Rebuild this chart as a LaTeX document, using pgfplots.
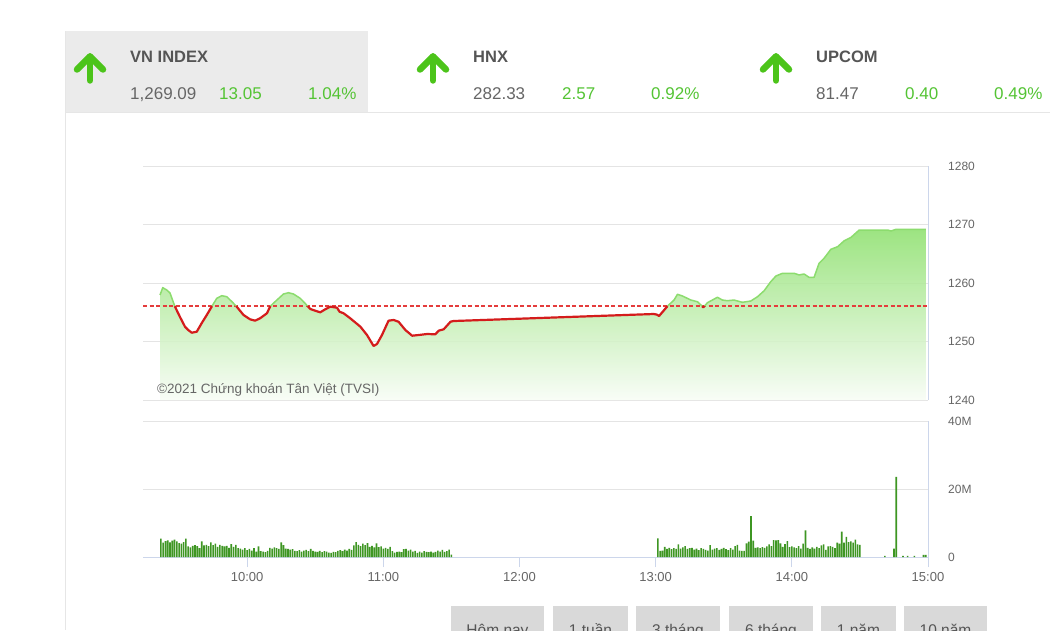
\documentclass[border=0pt]{standalone}
\usepackage{fontspec}
\setmainfont{Liberation Sans}
\usepackage{pgfplots}
\pgfplotsset{compat=1.18}
\usepackage{pgfplotstable}

\definecolor{hdrgray}{RGB}{235,235,235}
\definecolor{cardline}{RGB}{230,230,230}
\definecolor{arrowgreen}{RGB}{76,196,26}
\definecolor{upgreen}{RGB}{84,196,52}
\definecolor{titlegray}{RGB}{85,85,85}
\definecolor{valgray}{RGB}{102,102,102}
\definecolor{labgray}{RGB}{102,102,102}
\definecolor{gridgray}{RGB}{228,228,228}
\definecolor{axisblue}{RGB}{204,214,235}
\definecolor{linered}{RGB}{212,28,28}
\definecolor{refred}{RGB}{228,60,60}
\definecolor{greenline}{RGB}{140,220,110}
\definecolor{filltop}{RGB}{140,224,108}
\definecolor{fillbot}{RGB}{248,253,246}
\definecolor{volgreen}{RGB}{62,150,35}
\definecolor{btngray}{RGB}{217,217,217}
\definecolor{btntext}{RGB}{85,85,85}

% price: minutes after 9:00, index value
\pgfplotstableread{
t p
21.6 1257.95
22.8 1259.20
24.6 1258.80
26.0 1258.29
28.1 1256.04
30.4 1254.19
32.6 1252.53
34.0 1251.97
35.6 1251.50
37.8 1251.68
40.0 1253.16
42.2 1254.53
44.5 1256.04
46.6 1257.38
48.8 1257.83
51.0 1257.66
53.3 1256.80
55.2 1256.04
58.4 1254.53
61.3 1253.79
63.5 1253.56
65.7 1253.97
68.7 1254.82
70.2 1256.04
73.1 1257.09
76.0 1258.12
78.2 1258.34
80.4 1258.12
83.4 1257.38
86.7 1256.04
87.8 1255.56
90.0 1255.26
92.2 1254.99
94.4 1255.50
96.6 1255.95
99.6 1255.78
100.7 1255.09
102.5 1254.82
105.4 1253.97
109.9 1252.53
112.8 1251.11
115.7 1249.23
117.2 1249.57
119.4 1251.11
122.3 1253.56
124.5 1253.68
126.7 1253.38
129.7 1251.97
132.7 1250.99
135.6 1251.11
139.3 1251.28
142.9 1251.23
144.4 1251.85
146.6 1252.09
149.6 1253.38
150.9 1253.50
239.2 1254.70
240.5 1254.60
241.5 1254.36
245.2 1256.04
248.1 1257.09
249.6 1258.07
251.8 1257.78
255.5 1257.09
258.4 1256.80
260.5 1256.04
261.0 1255.85
261.5 1256.04
262.8 1256.63
267.2 1257.56
269.4 1257.09
271.6 1256.97
274.5 1257.09
278.2 1256.70
281.9 1256.92
284.9 1257.66
287.8 1258.68
290.7 1260.22
293.0 1261.20
295.9 1261.66
301.0 1261.66
303.2 1261.37
305.4 1261.54
307.6 1260.97
309.8 1260.97
312.0 1263.37
314.2 1264.22
317.2 1265.76
320.2 1266.21
323.1 1267.23
326.1 1267.81
329.7 1269.06
342.2 1269.06
343.7 1268.89
345.9 1269.18
359.1 1269.18
}\price

% volume: minutes after 9:00, millions
\pgfplotstableread{
t v
22 5.4
23 4.2
24 4.7
25 4.9
26 4.3
27 4.8
28 5.1
29 4.6
30 4.1
31 3.9
32 4.4
33 5.4
34 3.1
35 2.8
36 3.3
37 3.5
38 3.2
39 2.6
40 4.6
41 3.4
42 3.6
43 3.2
44 4.3
45 3.5
46 3.9
47 3.0
48 3.6
49 3.3
50 3.1
51 3.3
52 2.7
53 3.8
54 3.0
55 3.6
56 2.6
57 2.5
58 2.2
59 2.6
60 2.0
61 2.4
62 1.9
63 2.6
64 1.6
65 3.1
66 1.7
67 1.6
68 1.4
69 1.8
70 2.7
71 2.5
72 2.8
73 2.6
74 2.4
75 4.3
76 3.5
77 2.5
78 2.4
79 2.2
80 2.3
81 1.8
82 1.7
83 2.0
84 1.6
85 1.9
86 2.1
87 1.7
88 2.4
89 1.8
90 1.6
91 1.5
92 1.8
93 1.4
94 1.7
95 1.6
96 1.3
97 1.2
98 1.5
99 1.4
100 1.8
101 2.0
102 1.7
103 2.2
104 1.9
105 2.4
106 2.1
107 3.4
108 4.4
109 3.6
110 3.2
111 3.9
112 3.5
113 4.1
114 3.0
115 3.3
116 2.8
117 4.0
118 2.9
119 3.1
120 2.5
121 2.7
122 2.4
123 3.0
124 1.7
125 1.3
126 1.5
127 1.6
128 1.4
129 2.3
130 2.4
131 1.9
132 2.2
133 1.6
134 1.8
135 1.2
136 1.6
137 1.3
138 1.7
139 1.5
140 1.4
141 1.6
142 1.3
143 1.5
144 1.9
145 1.6
146 2.1
147 1.5
148 1.7
149 2.2
150 0.7
241 5.5
242 1.8
243 1.9
244 3.0
245 2.4
246 2.7
247 2.3
248 2.6
249 2.4
250 3.7
251 2.5
252 2.8
253 3.2
254 2.4
255 2.6
256 2.7
257 2.2
258 2.5
259 2.0
260 2.6
261 2.4
262 2.1
263 1.9
264 3.5
265 2.2
266 2.5
267 2.6
268 2.1
269 2.4
270 2.7
271 2.3
272 2.0
273 2.6
274 2.2
275 3.2
276 3.6
277 1.9
278 1.8
279 1.8
280 4.0
281 4.5
282 12.0
283 4.8
284 2.7
285 2.8
286 2.6
287 2.9
288 2.7
289 3.1
290 3.7
291 3.2
292 5.0
293 4.9
294 5.0
295 4.0
296 3.0
297 3.8
298 4.7
299 2.9
300 3.1
301 2.8
302 2.6
303 3.2
304 2.5
305 3.9
306 7.8
307 2.7
308 2.4
309 2.8
310 2.5
311 3.0
312 2.6
313 3.4
314 3.7
315 2.1
316 3.1
317 3.2
318 3.0
319 2.6
320 4.2
321 3.9
322 7.5
323 4.2
324 5.9
325 4.4
326 4.6
327 4.2
328 5.1
329 3.7
330 3.6
341 0.3
345 2.5
346 23.6
349 0.3
351 0.3
354 0.3
358 0.6
359 0.6
}\vol

\begin{document}
\begin{tikzpicture}[x=1pt,y=1pt]
\path[use as bounding box] (0,0) rectangle (1050,630);
\clip (0,0) rectangle (1050,630);
\fill[white] (0,0) rectangle (1050,630);

% card and header
\fill[hdrgray] (65,517) rectangle (368,599);
\draw[cardline, line width=1pt] (65,517) -- (1050,517);
\draw[cardline, line width=1pt] (65,0) -- (65,599);

\foreach \cx/\name/\val/\chg/\pct in {90/VN INDEX/{1,269.09}/13.05/1.04\%, 433/HNX/282.33/2.57/0.92\%, 776/UPCOM/81.47/0.40/0.49\%}{
  \draw[arrowgreen, line width=6.5pt, line cap=round, line join=round] (\cx,549.5) -- (\cx,573.5);
  \draw[arrowgreen, line width=6.5pt, line cap=round, line join=round] (\cx-13,560.5) -- (\cx,573.5) -- (\cx+13,560.5);
  \node[anchor=base west, inner sep=0pt, text=titlegray, font=\fontsize{16.5}{18}\selectfont\bfseries] at (\cx+40,567) {\name};
  \node[anchor=base west, inner sep=0pt, text=valgray, font=\fontsize{17}{18}\selectfont] at (\cx+40,530) {\val};
  \node[anchor=base west, inner sep=0pt, text=upgreen, font=\fontsize{17}{18}\selectfont] at (\cx+129,530) {\chg};
  \node[anchor=base west, inner sep=0pt, text=upgreen, font=\fontsize{17}{18}\selectfont] at (\cx+218,530) {\pct};
}

% price axis
\begin{axis}[at={(143pt,230pt)}, anchor=south west, scale only axis,
  width=785pt, height=234pt,
  xmin=14.1, xmax=360, ymin=1240, ymax=1280,
  axis x line=none, axis y line*=right,
  y axis line style={draw=axisblue, line width=1pt, -},
  xtick=\empty,
  ytick={1240,1250,1260,1270,1280},
  yticklabels={1240,1250,1260,1270,1280},
  ytick style={draw=none},
  ymajorgrids, major grid style={draw=gridgray, line width=1pt},
  yticklabel style={font=\fontsize{12}{12}\selectfont, text=labgray, anchor=west, inner sep=0pt, xshift=20pt},
  unbounded coords=jump,
]
\addplot[draw=none, top color=filltop, bottom color=fillbot, fill opacity=0.85]
  table[x=t, y=p] {\price} |- (axis cs:21.6,1240) -- cycle;
\addplot[refred, line width=1.4pt, dash pattern=on 4pt off 2.5pt] coordinates {(14.1,1256.04) (360,1256.04)};
\addplot[greenline, line width=1.5pt, line join=round, restrict y to domain=1256.03:1300]
  table[x=t, y=p] {\price};
\addplot[linered, line width=2.2pt, line join=round, restrict y to domain=1200:1256.05]
  table[x=t, y=p] {\price};
\end{axis}

\node[anchor=west, inner sep=0pt, text=labgray, font=\fontsize{13.5}{14}\selectfont] at (157,240) {©2021 Chứng khoán Tân Việt (TVSI)};

% volume axis
\begin{axis}[at={(143pt,73pt)}, anchor=south west, scale only axis,
  width=785pt, height=136pt,
  xmin=14.1, xmax=360, ymin=0, ymax=40,
  axis x line*=bottom, axis y line*=right,
  axis line style={draw=axisblue, line width=1pt, -},
  xtick={60,120,180,240,300,360},
  xticklabels={10:00,11:00,12:00,13:00,14:00,15:00},
  tick align=outside, major tick length=10pt,
  xtick style={draw=axisblue, line width=1pt},
  ytick={0,20,40}, yticklabels={0,20M,40M},
  ytick style={draw=none},
  ymajorgrids, major grid style={draw=gridgray, line width=1pt},
  yticklabel style={font=\fontsize{12}{12}\selectfont, text=labgray, anchor=west, inner sep=0pt, xshift=10pt},
  xticklabel style={font=\fontsize{13}{13}\selectfont, text=labgray, inner sep=0pt, yshift=-5pt},
]
\addplot[ybar, bar width=1.6pt, fill=volgreen, draw=none] table[x=t, y=v] {\vol};
\end{axis}

% range buttons
\foreach \xa/\xb/\lab in {451/544/Hôm nay, 553/628/1 tuần, 636/720/3 tháng, 729/813/6 tháng, 821/896/1 năm, 904/987/10 năm}{
  \fill[btngray] (\xa,-5) rectangle (\xb,24.5);
  \node[anchor=base, inner sep=0pt, text=btntext, font=\fontsize{15.5}{16}\selectfont] at ({(\xa+\xb)/2},-5.5) {\lab};
}
\end{tikzpicture}
\end{document}
